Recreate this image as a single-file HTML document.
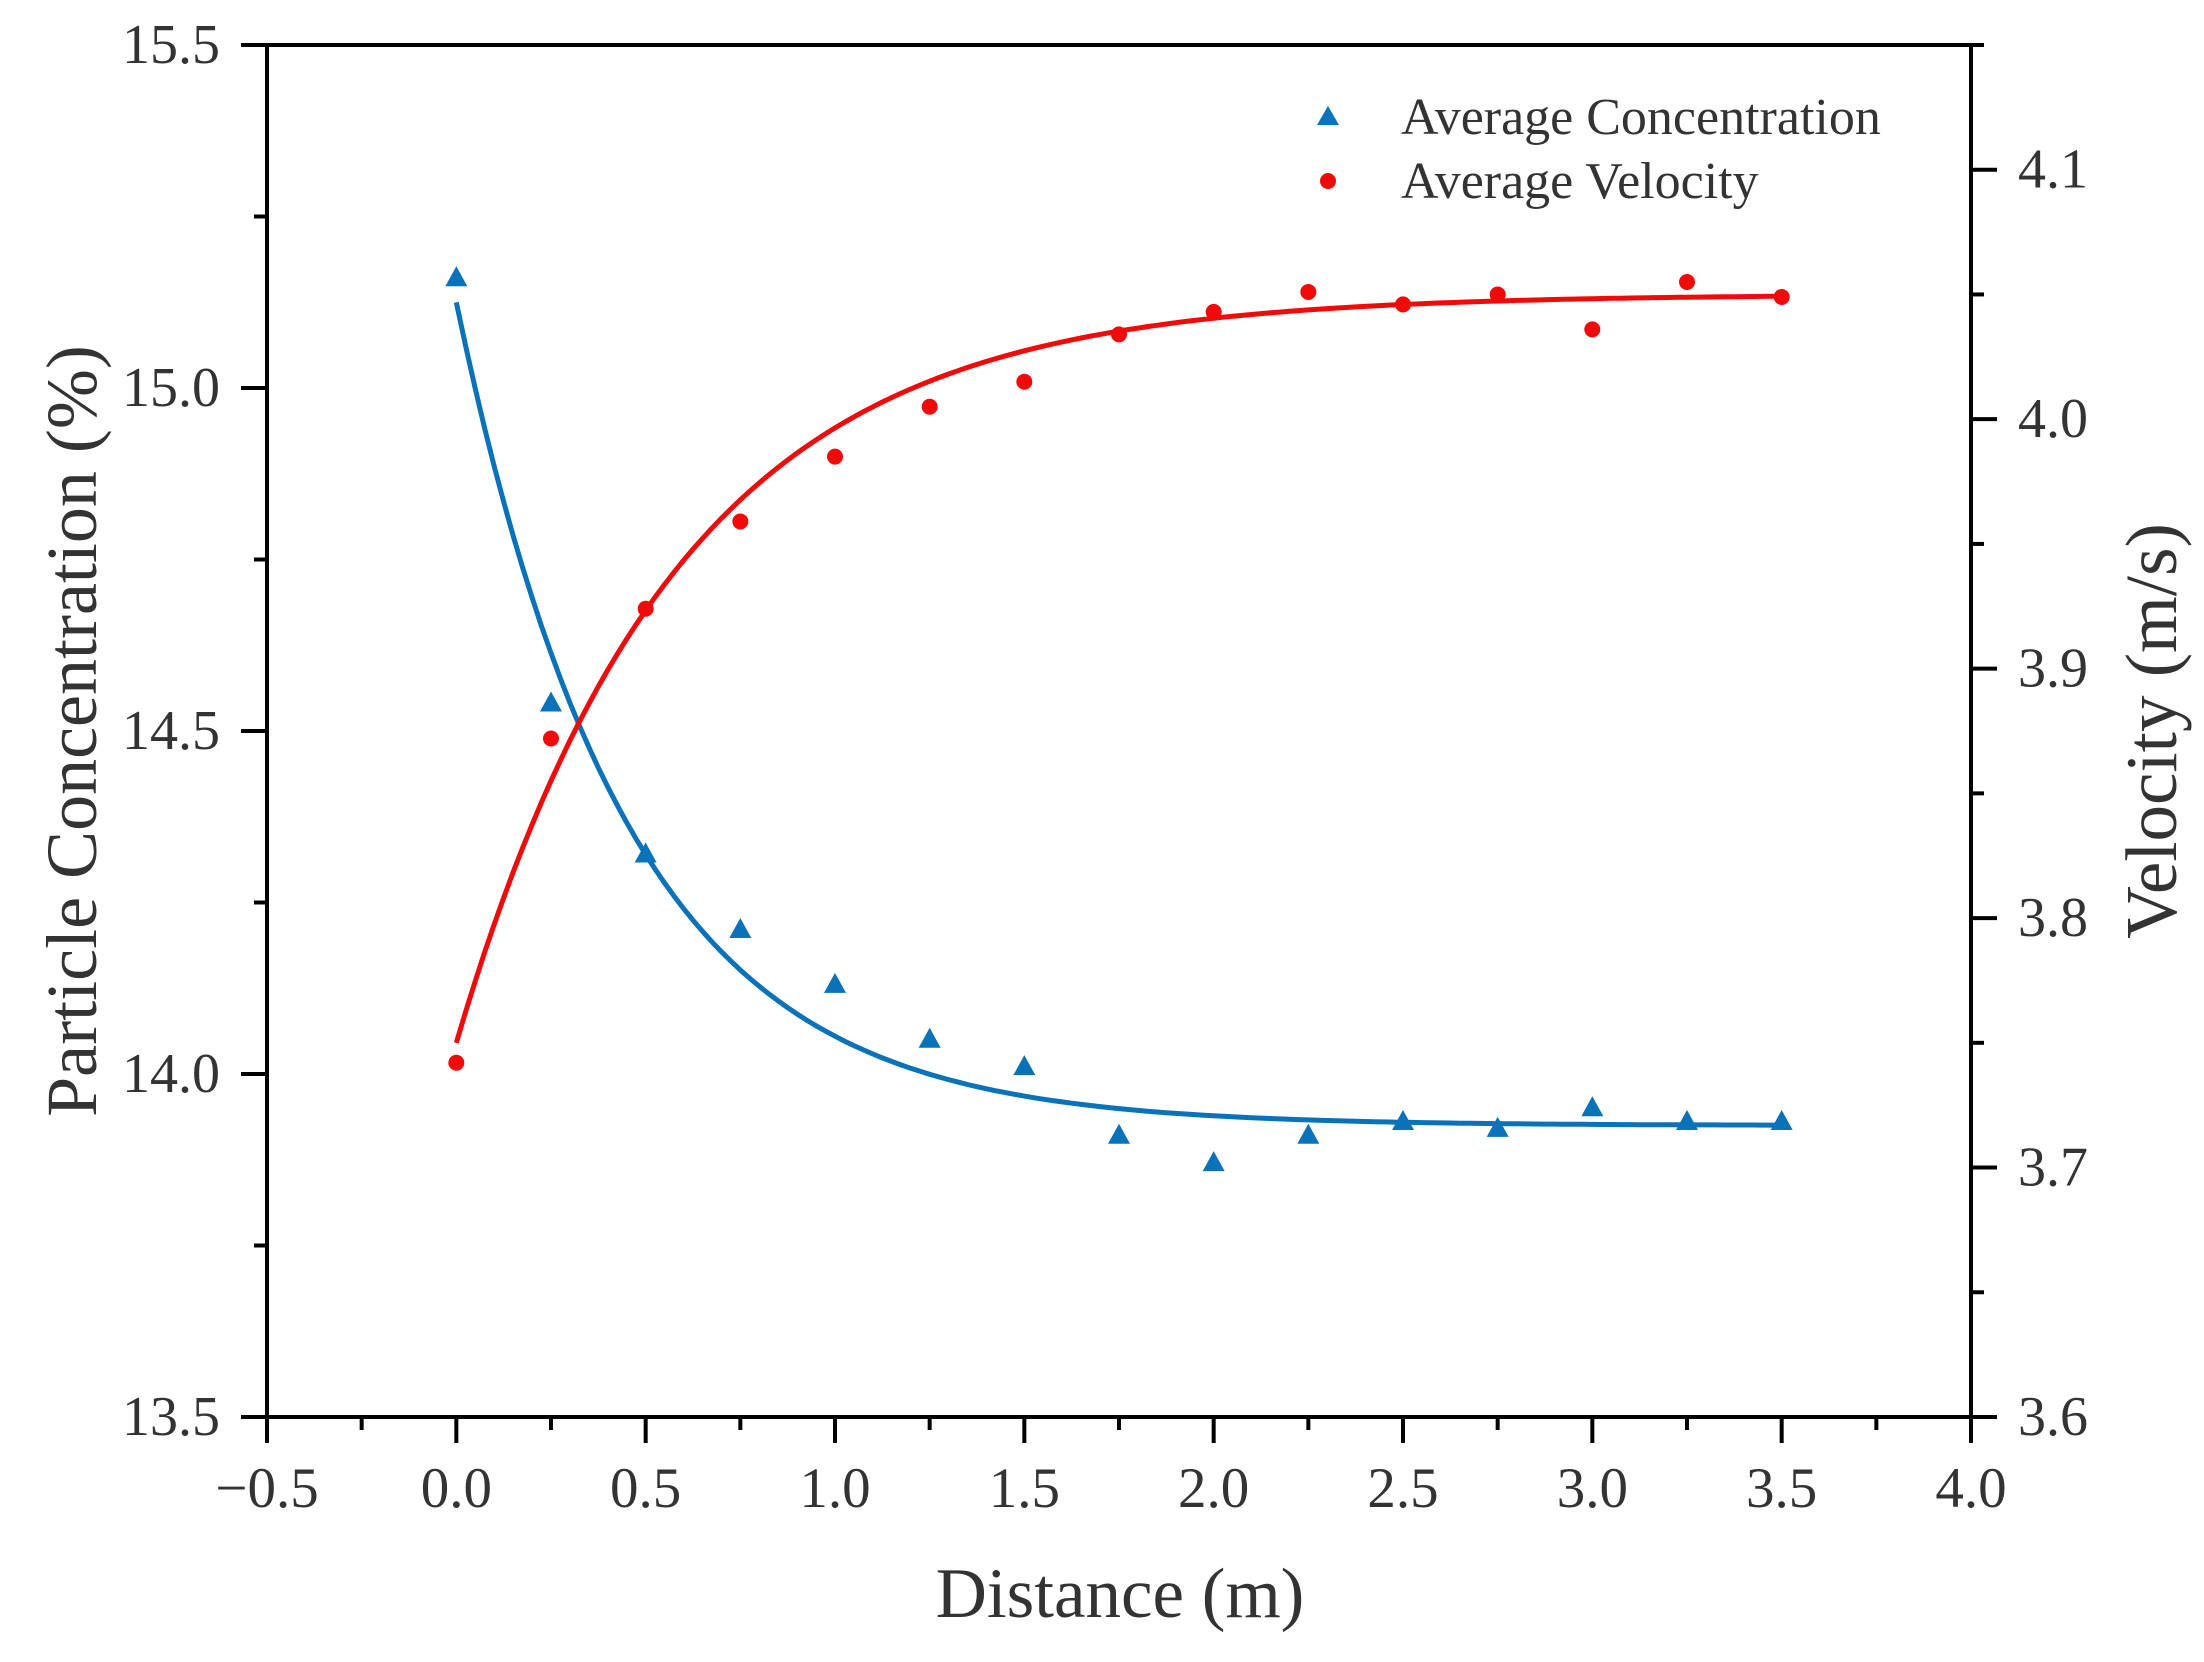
<!DOCTYPE html>
<html><head><meta charset="utf-8"><style>
html,body{margin:0;padding:0;background:#fff;}
svg{display:block;font-family:"Liberation Serif",serif;}
</style></head><body>
<svg id="chart" width="2204" height="1662" viewBox="0 0 2204 1662" xmlns="http://www.w3.org/2000/svg"></svg>
<script>
const distances=[0,0.25,0.5,0.75,1.0,1.25,1.5,1.75,2.0,2.25,2.5,2.75,3.0,3.25,3.5];
const concentration=[15.16,14.54,14.32,14.21,14.13,14.05,14.01,13.91,13.87,13.91,13.93,13.92,13.95,13.93,13.93];
const velocity=[3.742,3.872,3.924,3.959,3.985,4.005,4.015,4.034,4.043,4.051,4.046,4.050,4.036,4.055,4.049];
const concFit=[13.925,1.2,0.45];
const velFit=[4.05,0.30,0.58];
const xTicks=[-0.5,0,0.5,1.0,1.5,2.0,2.5,3.0,3.5,4.0];
const yLeftTicks=[13.5,14.0,14.5,15.0,15.5];
const yRightTicks=[3.6,3.7,3.8,3.9,4.0,4.1];

const L=267,R=1971,T=45,B=1417;
const sx=v=>L+(v+0.5)/4.5*(R-L);
const syL=v=>B-(v-13.5)/2.0*(B-T);
const syR=v=>B-(v-3.6)/0.55*(B-T);
const svg=document.getElementById('chart');
const NS='http://www.w3.org/2000/svg';
function mk(tag,attrs,parent){const e=document.createElementNS(NS,tag);for(const k in attrs)e.setAttribute(k,attrs[k]);(parent||svg).appendChild(e);return e;}
const TXT='#333';

function curve(p,sy,color,name){let d='';for(let i=0;i<=140;i++){const x=i*3.5/140;const y=p[0]-(name==='vel'?1:-1)*p[1]*Math.exp(-x/p[2]);d+=(i?'L':'M')+sx(x).toFixed(1)+' '+sy(y).toFixed(1);}
return mk('path',{d:d,fill:'none',stroke:color,'stroke-width':5});}
const cc=curve(concFit,syL,'#0a72b8','conc');


const vc=curve(velFit,syR,'#f00a0a','vel');



distances.forEach((x,i)=>{
  const cx=sx(x),cy=syL(concentration[i]);
  const t=mk('polygon',{points:`${cx},${cy-12} ${cx-11},${cy+8} ${cx+11},${cy+8}`,fill:'#0a72b8'});
  
  
  const c=mk('circle',{cx:cx,cy:syR(velocity[i]),r:8,fill:'#f00a0a'});
  
  
});

const g=mk('g',{stroke:'#000','stroke-width':4,fill:'none'});


mk('path',{d:`M${L} ${T}H${R}V${B}H${L}Z`},g);
for(let i=0;i<xTicks.length;i++){
  const x=sx(xTicks[i]);mk('line',{x1:x,y1:B,x2:x,y2:B+26},g);
  if(i<xTicks.length-1){const xm=sx(xTicks[i]+0.25);mk('line',{x1:xm,y1:B,x2:xm,y2:B+13},g);}
  const lbl=mk('text',{x:x,y:1507,'text-anchor':'middle','font-size':57,fill:TXT});
  lbl.textContent=xTicks[i]<0?'\u22120.5':xTicks[i].toFixed(1);
  
  
}
for(let i=0;i<yLeftTicks.length;i++){
  const y=syL(yLeftTicks[i]);mk('line',{x1:L-26,y1:y,x2:L,y2:y},g);
  if(i<yLeftTicks.length-1){const ym=syL(yLeftTicks[i]+0.25);mk('line',{x1:L-13,y1:ym,x2:L,y2:ym},g);}
  const lbl=mk('text',{x:220,y:y+18,'text-anchor':'end','font-size':56,fill:TXT});
  lbl.textContent=yLeftTicks[i].toFixed(1);
  
  
}
for(let i=0;i<yRightTicks.length;i++){
  const y=syR(yRightTicks[i]);mk('line',{x1:R,y1:y,x2:R+26,y2:y},g);
  const ym=syR(yRightTicks[i]+0.05);mk('line',{x1:R,y1:ym,x2:R+13,y2:ym},g);
  const lbl=mk('text',{x:2018,y:y+18,'text-anchor':'start','font-size':56,fill:TXT});
  lbl.textContent=yRightTicks[i].toFixed(1);
  
  
}
let t=mk('text',{x:1120,y:1617,'text-anchor':'middle','font-size':71,fill:TXT});t.textContent='Distance (m)';


t=mk('text',{x:0,y:0,'text-anchor':'middle','font-size':72,fill:TXT,transform:'translate(96,731) rotate(-90)'});t.textContent='Particle Concentration (%)';


t=mk('text',{x:0,y:0,'text-anchor':'middle','font-size':73,fill:TXT,transform:'translate(2176,731) rotate(-90)'});t.textContent='Velocity (m/s)';


const lg=mk('g',{});


let m=mk('polygon',{points:'1328,106 1317,125 1339,125',fill:'#0a72b8'},lg);


t=mk('text',{x:1401,y:134,'font-size':52,fill:TXT},lg);t.textContent='Average Concentration';


m=mk('circle',{cx:1328,cy:181,r:8,fill:'#f00a0a'},lg);


t=mk('text',{x:1401,y:198,'font-size':52,fill:TXT},lg);t.textContent='Average Velocity';


</script>
</body></html>
